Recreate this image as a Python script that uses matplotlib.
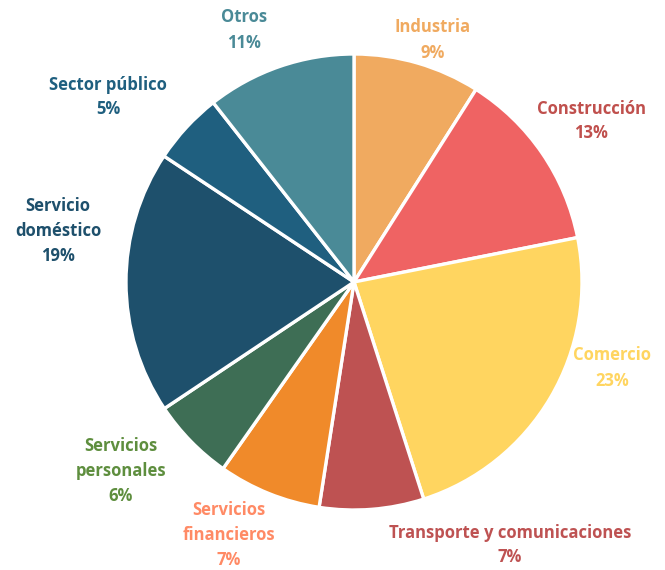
import numpy as np
import matplotlib
matplotlib.use('Agg')
import matplotlib.pyplot as plt

plt.rcParams['font.family'] = ['Open Sans', 'DejaVu Sans']

# data (shares of employment by sector, clockwise from the top)
sectors = ['Industria', 'Construcción', 'Comercio', 'Transporte y comunicaciones',
           'Servicios\nfinancieros', 'Servicios\npersonales', 'Servicio\ndoméstico',
           'Sector público', 'Otros']
shares = [9.0, 12.9, 23.2, 7.4, 7.3, 5.9, 18.7, 5.1, 10.6]

slice_colors = ['#F0AA60', '#EF6363', '#FFD560', '#BE5252', '#F08A2A',
                '#3E6E55', '#1E506C', '#1F5F7F', '#4A8A97']
label_colors = ['#F0AA60', '#C0504D', '#FFD560', '#BE5252', '#FF8A65',
                '#5E8E3E', '#1E506C', '#1F5F7F', '#4A8A97']

# label centres in pixels of the 665x570 canvas
label_px = [(433, 40), (591, 121), (612, 368), (510, 545), (229, 535),
            (121, 471), (58, 231), (108, 97), (244, 30)]

W, H = 665, 570
cx, cy, R = 354, 282, 228

fig = plt.figure(figsize=(W / 100, H / 100), dpi=100)
ax = fig.add_axes([0, 0, 1, 1])

ax.pie(shares, colors=slice_colors, startangle=90, counterclock=False,
       radius=1, center=(0, 0), normalize=True,
       wedgeprops=dict(edgecolor='white', linewidth=2.4))

ax.set_xlim(-cx / R, (W - cx) / R)
ax.set_ylim(-(H - cy) / R, cy / R)
ax.set_aspect('auto')
ax.axis('off')

for name, val, col, (px, py) in zip(sectors, shares, label_colors, label_px):
    ax.text((px - cx) / R, (cy - py) / R, f'{name}\n{round(val)}%',
            ha='center', va='center', color=col, fontsize=12,
            fontweight='bold', linespacing=1.5)

fig.savefig('out.png', dpi=100, facecolor='white')
